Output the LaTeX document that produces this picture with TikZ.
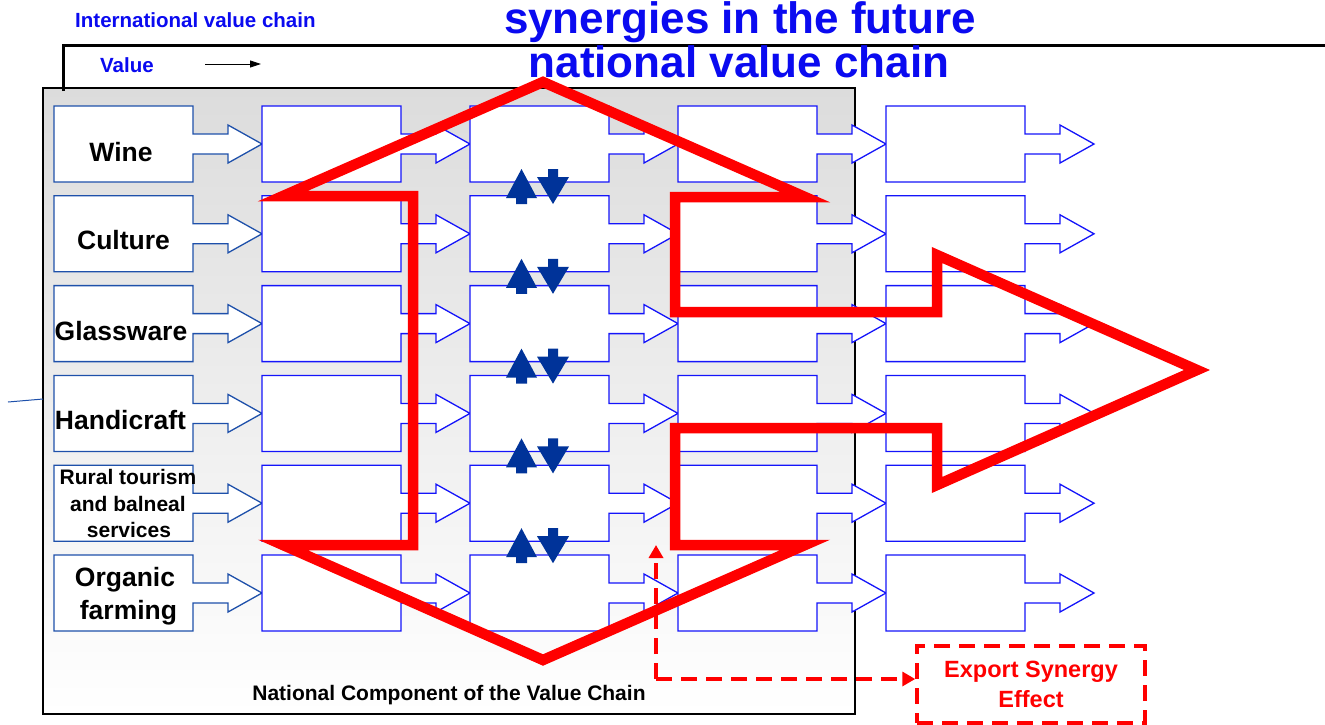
\documentclass[tikz,border=0pt]{standalone}
\usepackage{fontspec}
\setmainfont{Liberation Sans}
\usetikzlibrary{arrows.meta}
\definecolor{boxblue}{RGB}{20,20,250}
\definecolor{boxblueA}{RGB}{30,80,170}
\definecolor{arrblue}{RGB}{0,51,153}
\definecolor{ttlblue}{RGB}{10,10,240}
\definecolor{synred}{RGB}{255,0,0}
\definecolor{greytop}{RGB}{220,220,220}
\begin{document}
\begin{tikzpicture}[x=1pt,y=-1pt,
  unitshape/.style={fill=white, line width=1.3pt, line join=miter},
  lbl/.style={font=\fontsize{26.5}{30}\selectfont\bfseries, inner sep=0pt, text=black},
  lblsmall/.style={font=\fontsize{21}{24}\selectfont\bfseries, inner sep=0pt, text=black},
  ttl/.style={font=\fontsize{44}{48}\selectfont\bfseries, text=ttlblue, inner sep=0pt},
  subttl/.style={font=\fontsize{20.5}{24}\selectfont\bfseries, text=ttlblue, inner sep=0pt},
  redline/.style={draw=synred, line width=10.5pt, line join=miter, miter limit=12},
  dashred/.style={draw=synred, line width=3.5pt, dash pattern=on 16pt off 9pt},
  updown/.style={fill=arrblue, draw=none},
  exportbox/.style={draw=synred, dash pattern=on 16pt off 9pt, line width=3.5pt,
     minimum width=228pt, minimum height=77pt, inner sep=0pt, align=center,
     text=synred, font=\fontsize{23.5}{30}\selectfont\bfseries}
]
\useasboundingbox (0,0) rectangle (1325,724);
\fill[white] (0,0) rectangle (1325,724);

% national component box
\shade[top color=greytop, bottom color=white] (43,88) rectangle (855,714);
\draw[line width=2pt] (43,88) rectangle (855,714);

% international bracket
\draw[line width=3pt] (63,91) -- (63,45) -- (1325,45);

% left thin line
\coordinate (lfa) at (8,402);
\coordinate (lfb) at (43,399);
\draw[boxblueA, line width=1pt] (lfa) -- (lfb);

% value chain units
\foreach \cc in {0,...,4}{
  \foreach \rr in {0,...,5}{
    \pgfmathsetmacro{\xa}{54+208*\cc}
    \pgfmathsetmacro{\ya}{106+89.8*\rr}
    \ifnum\cc=0 \colorlet{ucol}{boxblueA}\else\colorlet{ucol}{boxblue}\fi
    \path[unitshape, draw=ucol] (\xa,\ya) -- ++(139,0) -- ++(0,28) -- ++(35,0) -- ++(0,-9)
      -- ++(34,19) -- ++(-34,19) -- ++(0,-9) -- ++(-35,0) -- ++(0,28) -- ++(-139,0) -- cycle;
  }
}

% up/down arrows
\foreach \rr in {0,...,4}{
  \pgfmathsetmacro{\dy}{89.8*\rr}
  \fill[updown] (506,198+\dy) -- (521.5,169+\dy) -- (537,198+\dy) -- (527,198+\dy)
     -- (527,204+\dy) -- (516,204+\dy) -- (516,198+\dy) -- cycle;
  \fill[updown] (548,169+\dy) -- (558,169+\dy) -- (558,177+\dy) -- (569,177+\dy)
     -- (553,204+\dy) -- (537,177+\dy) -- (548,177+\dy) -- cycle;
}

% red synergy shape
\draw[redline] (283,196) -- (543,82) -- (805,197) -- (675,197) -- (675,312) -- (937,312)
  -- (937,255) -- (1197,370) -- (937,485) -- (937,428) -- (675,428) -- (675,545)
  -- (805,545) -- (543,660) -- (283,545) -- (413,545) -- (413,196) -- cycle;

% titles
\node[ttl, anchor=base] (title1) at (740,33) {synergies in the future};
\node[ttl, anchor=base] (title2) at (739,77) {national value chain};
\node[subttl, anchor=base west] (intl) at (75,27) {International value chain};
\node[subttl, anchor=base west] (value) at (100,72) {Value};
\coordinate (va) at (205,64);
\coordinate (vb) at (261,64);
\draw[line width=0.9pt, -{Triangle[length=11pt,width=7pt]}] (va) -- (vb);

% row labels
\node[lbl, anchor=base] (wine) at (121,161) {Wine};
\node[lbl, anchor=base] (culture) at (123.5,249) {Culture};
\node[lbl, anchor=base] (glass) at (121,340) {Glassware};
\node[lbl, anchor=base] (handi) at (120.5,429) {Handicraft};
\node[lblsmall, anchor=base] (rural1) at (128,484) {Rural tourism};
\node[lblsmall, anchor=base] (rural2) at (128,511) {and balneal};
\node[lblsmall, anchor=base] (rural3) at (129,537) {services};
\node[lbl, anchor=base] (organic1) at (125,586) {Organic};
\node[lbl, anchor=base] (organic2) at (128.5,619) {farming};

\node[lblsmall, anchor=base] (natcomp) at (449,700) {National Component of the Value Chain};

% export synergy
\node[exportbox] (export) at (1031,684.5) {Export Synergy\\Effect};
\coordinate (dcorner) at (656,679);
\coordinate (dup) at (656,545);
\draw[dashred, -{Triangle[length=13pt,width=14pt]}] (dcorner) -- (dup);
\draw[dashred, -{Triangle[length=13pt,width=14pt]}] (dcorner) -- (dcorner -| export.west);
\end{tikzpicture}
\end{document}
